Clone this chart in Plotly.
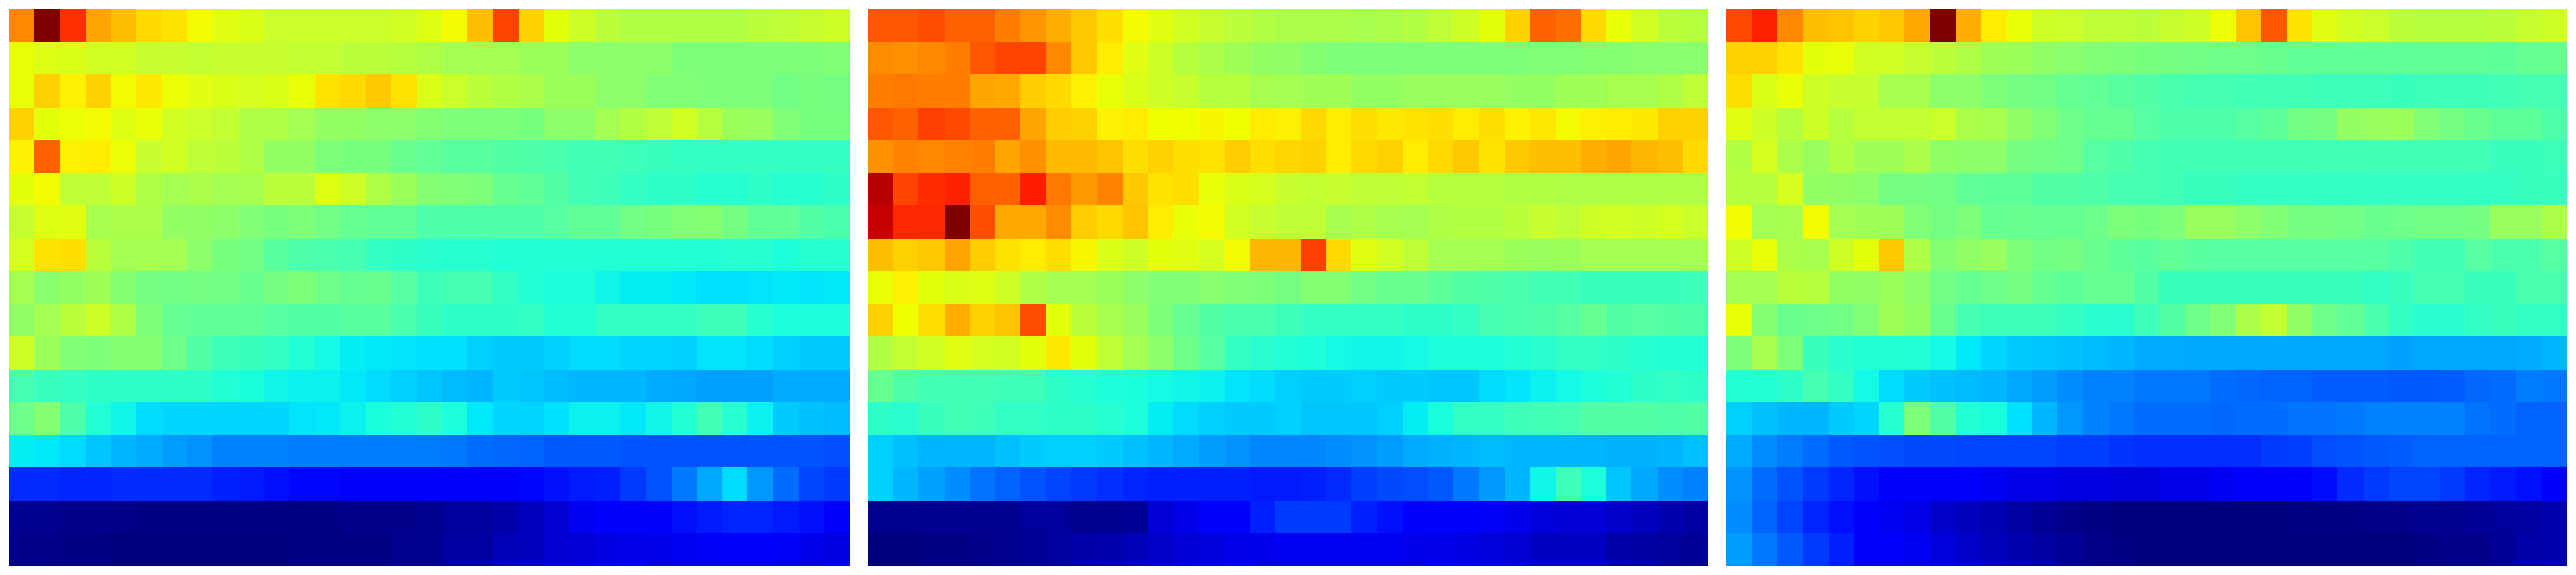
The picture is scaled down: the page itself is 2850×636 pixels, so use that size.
import plotly.graph_objects as go

# Values (0..1 on the jet scale), top row first.
panel_a = [
 [.78,1.0,.87,.75,.72,.69,.68,.655,.63,.62,.60,.60,.60,.60,.60,.61,.625, .655,.72,.85,.70,.635,.605,.58,.57,.57,.57,.57,.57,.58,.585,.595,.605],
 [.64,.625,.62,.61,.61,.595,.595,.59,.595,.595,.595,.59,.59,.58,.58,.575,.565, .55,.55,.55,.54,.54,.52,.52,.52,.52,.50,.50,.50,.50,.50,.50,.505],
 [.64,.70,.665,.70,.655,.675,.645,.63,.62,.615,.62,.64,.68,.69,.71,.68,.62, .60,.58,.57,.56,.54,.54,.52,.52,.505,.505,.50,.50,.50,.485,.495,.49],
 [.70,.635,.645,.655,.625,.64,.61,.60,.59,.565,.565,.55,.53,.53,.52,.52,.51, .50,.50,.50,.495,.52,.52,.55,.57,.585,.61,.575,.54,.535,.505,.495,.495],
 [.665,.82,.665,.67,.645,.595,.61,.585,.58,.565,.53,.53,.50,.495,.495,.475,.465, .455,.455,.445,.44,.435,.425,.425,.42,.415,.41,.41,.41,.41,.41,.41,.41],
 [.635,.655,.585,.585,.605,.565,.55,.56,.55,.555,.58,.58,.625,.605,.565,.54,.51, .505,.50,.47,.465,.445,.425,.42,.41,.40,.40,.39,.39,.40,.39,.39,.40],
 [.595,.625,.63,.555,.56,.56,.53,.525,.52,.505,.495,.50,.485,.47,.465,.465,.44, .44,.44,.44,.44,.45,.465,.465,.485,.495,.505,.51,.49,.465,.465,.445,.435],
 [.615,.68,.685,.58,.55,.55,.55,.52,.495,.485,.455,.44,.435,.43,.41,.40,.395, .39,.39,.385,.385,.385,.385,.385,.385,.385,.385,.385,.39,.39,.38,.39,.39],
 [.55,.515,.53,.545,.51,.49,.485,.49,.485,.475,.49,.50,.48,.47,.475,.45,.42, .43,.43,.405,.385,.38,.38,.365,.355,.355,.35,.34,.34,.345,.35,.345,.35],
 [.525,.55,.58,.605,.565,.50,.47,.465,.465,.465,.45,.445,.445,.455,.455,.435,.415, .40,.40,.40,.405,.385,.385,.405,.405,.405,.405,.42,.42,.39,.38,.38,.38],
 [.605,.54,.505,.50,.51,.51,.48,.445,.42,.415,.41,.385,.37,.355,.35,.345,.34, .34,.325,.32,.32,.325,.335,.335,.33,.33,.325,.345,.345,.335,.325,.32,.32],
 [.43,.415,.41,.40,.40,.40,.40,.40,.385,.375,.365,.36,.36,.35,.335,.325,.315, .305,.30,.32,.315,.305,.30,.30,.30,.29,.285,.28,.28,.28,.29,.29,.29],
 [.48,.51,.44,.385,.365,.335,.33,.33,.33,.33,.33,.345,.35,.36,.375,.385,.40, .38,.35,.33,.33,.34,.36,.36,.35,.365,.385,.425,.39,.36,.32,.31,.305],
 [.355,.35,.335,.315,.30,.29,.275,.265,.25,.25,.25,.245,.245,.245,.245,.245,.245, .24,.23,.225,.22,.21,.21,.21,.205,.205,.205,.205,.205,.205,.205,.205,.20],
 [.165,.165,.16,.16,.165,.165,.165,.165,.155,.15,.14,.13,.13,.12,.115,.115,.115, .115,.115,.115,.13,.14,.15,.155,.18,.205,.24,.285,.335,.27,.23,.19,.18],
 [.015,.015,.01,.01,.01,.005,.005,.005,.005,.005,.005,.005,.005,.01,.01,.01,.015, .025,.025,.035,.055,.07,.10,.115,.115,.12,.14,.15,.16,.16,.15,.14,.115],
 [.01,.01,.005,.005,0,0,0,0,0,0,0,.005,.005,.005,.005,.015,.015, .03,.03,.05,.055,.07,.075,.085,.09,.095,.10,.105,.11,.11,.105,.095,.085],
]

panel_b = [
 [.83,.83,.84,.82,.82,.79,.765,.74,.71,.685,.655,.63,.61,.595,.58,.57,.56, .56,.56,.555,.56,.57,.585,.605,.635,.70,.82,.805,.69,.64,.61,.58,.575],
 [.775,.77,.78,.79,.83,.85,.85,.78,.71,.67,.63,.605,.575,.56,.545,.53,.525, .51,.50,.50,.50,.50,.50,.50,.50,.50,.505,.505,.51,.51,.515,.515,.515],
 [.79,.795,.79,.79,.75,.745,.705,.69,.665,.64,.62,.605,.595,.575,.575,.555,.55, .545,.545,.53,.53,.535,.535,.535,.535,.53,.53,.545,.545,.555,.555,.565,.585],
 [.83,.82,.855,.845,.82,.82,.75,.705,.70,.665,.67,.65,.65,.66,.65,.67,.665, .69,.67,.685,.675,.68,.685,.67,.685,.665,.675,.655,.665,.67,.675,.70,.70],
 [.77,.785,.78,.785,.79,.75,.77,.725,.725,.715,.685,.70,.685,.68,.705,.685,.695, .70,.67,.69,.70,.67,.69,.71,.68,.71,.72,.72,.74,.75,.73,.72,.69],
 [.97,.85,.875,.885,.82,.82,.89,.795,.76,.785,.71,.68,.685,.64,.62,.615,.595, .59,.595,.585,.585,.59,.575,.575,.575,.57,.57,.565,.565,.565,.565,.565,.565],
 [.96,.88,.88,1.0,.84,.745,.745,.775,.705,.69,.715,.67,.64,.655,.61,.595,.585, .585,.555,.565,.555,.55,.565,.57,.57,.58,.595,.585,.605,.61,.605,.615,.60],
 [.72,.70,.71,.75,.705,.68,.67,.685,.66,.62,.605,.635,.63,.615,.655,.73,.73, .855,.69,.63,.61,.585,.55,.55,.55,.54,.535,.54,.55,.55,.55,.55,.55],
 [.64,.665,.635,.62,.625,.605,.565,.55,.55,.54,.52,.505,.505,.515,.505,.50,.49, .51,.51,.485,.475,.475,.46,.445,.44,.435,.425,.425,.415,.415,.415,.415,.42],
 [.70,.65,.685,.74,.70,.715,.84,.635,.58,.555,.535,.50,.47,.445,.435,.435,.42, .41,.41,.41,.41,.40,.40,.41,.43,.435,.44,.45,.47,.445,.45,.445,.44],
 [.57,.59,.61,.63,.615,.61,.635,.675,.635,.585,.55,.52,.48,.45,.41,.395,.385, .38,.37,.365,.365,.37,.38,.38,.38,.385,.395,.405,.405,.40,.39,.385,.385],
 [.47,.44,.425,.425,.425,.42,.42,.40,.39,.38,.375,.37,.365,.36,.345,.335,.325, .32,.32,.325,.32,.32,.315,.315,.335,.345,.36,.37,.38,.385,.40,.405,.40],
 [.40,.395,.415,.425,.42,.405,.405,.40,.40,.39,.38,.355,.335,.325,.32,.32,.325, .315,.315,.315,.325,.355,.375,.405,.41,.42,.425,.43,.445,.445,.445,.44,.445],
 [.325,.31,.30,.30,.30,.31,.32,.325,.325,.32,.31,.30,.29,.275,.265,.255,.255, .255,.26,.265,.275,.29,.295,.30,.305,.30,.30,.30,.30,.295,.295,.30,.31],
 [.325,.30,.28,.26,.235,.22,.205,.19,.18,.17,.16,.155,.155,.155,.155,.15,.15, .155,.165,.185,.195,.20,.21,.24,.27,.30,.365,.42,.38,.315,.285,.26,.25],
 [.015,.015,.015,.015,.015,.015,.025,.025,.015,.015,.02,.075,.09,.115,.115,.155,.18, .18,.18,.155,.14,.115,.115,.115,.105,.095,.08,.075,.075,.065,.055,.04,.03],
 [0,0,.005,.005,.01,.015,.02,.025,.035,.04,.05,.065,.075,.08,.09,.095,.10, .10,.10,.10,.10,.095,.09,.085,.08,.07,.06,.06,.06,.035,.03,.025,.02],
]

panel_c = [
 [.845,.885,.78,.72,.715,.70,.71,.745,1.0,.74,.67,.64,.605,.60,.585,.585,.58, .595,.605,.645,.715,.83,.68,.63,.61,.60,.58,.575,.575,.575,.58,.595,.605],
 [.70,.70,.68,.635,.64,.61,.61,.595,.58,.565,.545,.54,.525,.515,.505,.50,.495, .49,.485,.48,.48,.475,.465,.465,.465,.465,.465,.465,.465,.465,.46,.47,.47],
 [.685,.62,.64,.605,.595,.595,.555,.555,.52,.52,.50,.49,.485,.47,.465,.455,.445, .435,.43,.43,.425,.425,.425,.42,.42,.42,.415,.42,.42,.42,.425,.43,.43],
 [.63,.605,.575,.605,.575,.59,.59,.59,.60,.56,.555,.525,.505,.48,.47,.47,.45, .44,.44,.44,.45,.46,.485,.49,.53,.535,.54,.505,.49,.475,.46,.46,.44],
 [.57,.615,.56,.535,.57,.545,.545,.56,.525,.52,.52,.49,.485,.48,.45,.44,.43, .425,.425,.425,.425,.425,.425,.425,.425,.425,.425,.425,.425,.425,.415,.415,.42],
 [.575,.575,.615,.53,.525,.52,.49,.49,.485,.465,.46,.46,.445,.445,.44,.43,.43, .425,.415,.415,.41,.41,.41,.405,.405,.41,.41,.41,.41,.405,.41,.415,.415],
 [.655,.55,.555,.655,.55,.545,.545,.505,.49,.50,.47,.475,.47,.47,.48,.50,.495, .50,.535,.535,.52,.505,.49,.49,.485,.475,.48,.485,.485,.49,.535,.535,.56],
 [.605,.64,.56,.555,.605,.635,.71,.565,.51,.525,.535,.50,.485,.49,.475,.46,.455, .465,.455,.45,.45,.45,.45,.45,.45,.45,.44,.425,.425,.45,.435,.435,.45],
 [.55,.55,.58,.575,.53,.525,.54,.52,.485,.47,.48,.49,.47,.46,.47,.47,.445, .415,.415,.415,.415,.415,.415,.415,.415,.405,.415,.43,.43,.415,.415,.435,.435],
 [.64,.51,.475,.48,.485,.505,.545,.53,.475,.43,.42,.42,.42,.41,.395,.395,.42, .445,.48,.505,.56,.59,.525,.48,.465,.435,.405,.395,.395,.405,.415,.405,.405],
 [.50,.555,.50,.415,.395,.385,.385,.385,.37,.35,.33,.32,.315,.31,.305,.30,.29, .29,.285,.285,.285,.285,.285,.285,.285,.285,.28,.285,.285,.285,.285,.29,.30],
 [.385,.385,.40,.43,.405,.37,.335,.32,.31,.305,.30,.285,.275,.26,.25,.25,.24, .24,.24,.23,.225,.22,.22,.215,.215,.215,.21,.21,.215,.225,.23,.245,.24],
 [.325,.31,.30,.30,.32,.33,.39,.50,.445,.385,.375,.34,.30,.27,.25,.24,.23, .23,.23,.225,.23,.23,.235,.235,.24,.25,.25,.25,.25,.235,.23,.22,.22],
 [.29,.26,.245,.23,.21,.205,.20,.195,.195,.19,.19,.19,.19,.185,.185,.175,.17, .17,.17,.17,.17,.18,.185,.20,.205,.21,.215,.22,.22,.22,.22,.22,.22],
 [.265,.23,.205,.18,.16,.14,.115,.115,.115,.11,.10,.09,.09,.085,.085,.08,.08, .09,.09,.10,.115,.115,.12,.135,.165,.18,.19,.19,.18,.16,.15,.14,.125],
 [.26,.22,.19,.16,.14,.115,.10,.09,.065,.055,.045,.03,.02,.01,.005,0,0, 0,0,0,0,0,.005,.005,.005,.01,.01,.015,.015,.02,.025,.03,.04],
 [.275,.24,.21,.18,.155,.12,.115,.10,.08,.065,.05,.04,.03,.02,.01,.005,0, 0,0,0,0,0,0,0,0,0,0,.005,.01,.01,.02,.035,.04],
]

for name, panel in (("a", panel_a), ("b", panel_b), ("c", panel_c)):
    for i, row in enumerate(panel):
        assert len(row) == 33, (name, i, len(row))

jet = [
    [0.0, "#00007f"], [0.11, "#0000ff"], [0.125, "#0000ff"], [0.34, "#00e0ff"],
    [0.35, "#00e8fa"], [0.375, "#19ffde"], [0.5, "#7dff7a"], [0.65, "#f0ff00"],
    [0.67, "#ffec00"], [0.76, "#ff9b00"], [0.92, "#ff0000"], [0.965, "#c00000"],
    [1.0, "#7f0000"],
]

W, H = 2850, 636
domains = [(10, 940), (960, 1890), (1910, 2840)]
fig = go.Figure()
for i, (panel, (x0, x1)) in enumerate(zip((panel_a, panel_b, panel_c), domains), start=1):
    suffix = "" if i == 1 else str(i)
    fig.add_trace(go.Heatmap(z=panel, zmin=0, zmax=1, colorscale=jet, showscale=False,
                             hoverinfo="skip", xaxis=f"x{suffix}", yaxis=f"y{suffix}"))
    fig.update_layout({
        f"xaxis{suffix}": dict(domain=[x0 / W, x1 / W], visible=False, anchor=f"y{suffix}", constrain="domain"),
        f"yaxis{suffix}": dict(domain=[1 - 626 / H, 1 - 10 / H], visible=False, autorange="reversed", anchor=f"x{suffix}"),
    })

fig.update_layout(width=W, height=H, margin=dict(l=0, r=0, t=0, b=0),
                  paper_bgcolor="white", plot_bgcolor="white", showlegend=False)
fig.write_html("out.html", include_plotlyjs=True,
               post_script="document.body.style.margin='0';document.body.style.overflow='hidden';",
               config={"displayModeBar": False})
